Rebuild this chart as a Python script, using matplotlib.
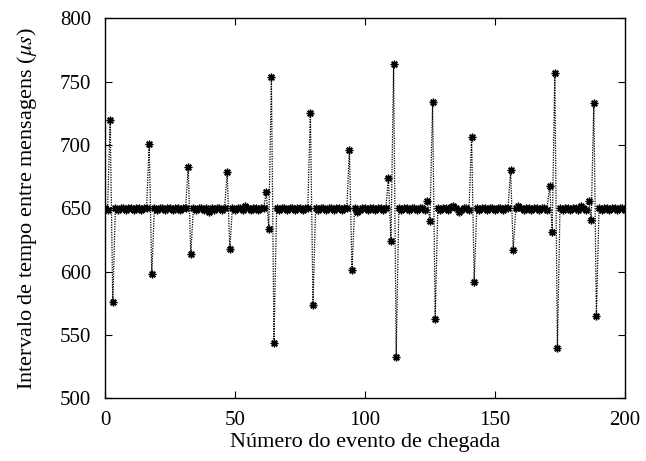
import numpy as np
import matplotlib.pyplot as plt

plt.rcParams['font.family'] = ['Liberation Serif', 'DejaVu Serif']
plt.rcParams['mathtext.fontset'] = 'stix'

# numero do evento de chegada (eixo x)
evento = list(range(201))

# intervalo entre mensagens em microssegundos
intervalo = [
    650, 649, 720, 576, 650, 649, 650, 650, 649, 650, 650, 649, 650, 650, 649, 650, 650, 701, 598, 650,
    649, 650, 650, 649, 650, 650, 649, 650, 650, 649, 650, 650, 683, 614, 650, 649, 650, 650, 649, 650,
    647, 650, 649, 650, 650, 649, 650, 679, 618, 650, 649, 650, 650, 649, 652, 650, 649, 650, 650, 649,
    650, 650, 663, 634, 754, 544, 650, 649, 650, 650, 649, 650, 650, 649, 650, 650, 649, 650, 650, 725,
    574, 650, 649, 650, 650, 649, 650, 650, 649, 650, 650, 649, 650, 650, 696, 601, 650, 647, 649, 650,
    650, 649, 650, 650, 649, 650, 650, 649, 650, 674, 624, 764, 533, 650, 649, 650, 650, 649, 650, 650,
    649, 650, 650, 649, 656, 640, 734, 563, 650, 649, 650, 650, 649, 651, 652, 650, 647, 649, 650, 650,
    649, 706, 592, 650, 649, 650, 650, 649, 650, 650, 649, 650, 650, 649, 650, 650, 680, 617, 650, 652,
    650, 649, 650, 650, 649, 650, 650, 649, 650, 650, 649, 668, 631, 757, 540, 650, 649, 650, 650, 649,
    650, 650, 649, 652, 650, 649, 656, 641, 733, 565, 650, 649, 650, 650, 649, 650, 650, 649, 650, 650,
    649,
]

x_ticks = [0, 50, 100, 150, 200]
y_ticks = [500, 550, 600, 650, 700, 750, 800]

fig = plt.figure(figsize=(6.46, 4.61), dpi=100)
ax = fig.add_axes([0.1625, 0.136, 0.805, 0.824])

ax.plot(evento, intervalo, color='black', linestyle=(0, (1, 1.0)), linewidth=0.9,
        marker=(8, 2, 0), markersize=5.5, markeredgewidth=1.0, markeredgecolor='black')

ax.set_xlim(0, 200)
ax.set_ylim(500, 800)
ax.set_xticks(x_ticks)
ax.set_yticks(y_ticks)
ax.tick_params(axis='y', pad=10)
ax.tick_params(axis='x', pad=9)
ax.tick_params(direction='in', top=True, right=True, labelsize=15, length=5, width=0.8)
for s in ax.spines.values():
    s.set_linewidth(1.0)

ax.set_xlabel('Número do evento de chegada', fontsize=16, labelpad=2)
ax.set_ylabel(r'Intervalo de tempo entre mensagens ($\mu s$)', fontsize=16, labelpad=15)

fig.savefig('out.png', dpi=100)
